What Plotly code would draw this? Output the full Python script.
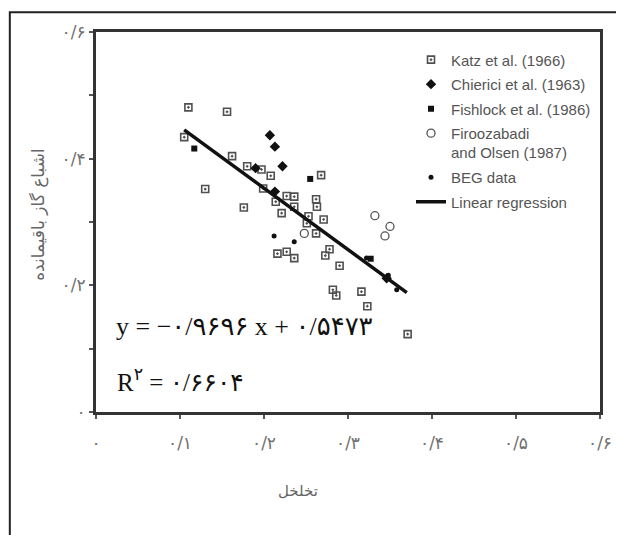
import plotly.graph_objects as go

# ---- data ----
katz_x = [0.110, 0.156, 0.105, 0.130, 0.162, 0.180, 0.197, 0.208, 0.176, 0.199, 0.214, 0.227,
          0.236, 0.221, 0.236, 0.262, 0.263, 0.268, 0.253, 0.251, 0.271, 0.262, 0.216, 0.227,
          0.236, 0.273, 0.278, 0.290, 0.282, 0.286, 0.316, 0.323, 0.371]
katz_y = [0.481, 0.474, 0.434, 0.352, 0.404, 0.388, 0.383, 0.373, 0.323, 0.353, 0.332, 0.341,
          0.340, 0.314, 0.324, 0.336, 0.324, 0.374, 0.309, 0.298, 0.304, 0.282, 0.250, 0.253,
          0.243, 0.247, 0.257, 0.231, 0.193, 0.184, 0.190, 0.167, 0.123]
chierici_x = [0.207, 0.213, 0.222, 0.190, 0.213, 0.346]
chierici_y = [0.437, 0.419, 0.388, 0.385, 0.348, 0.211]
fishlock_x = [0.117, 0.255, 0.327]
fishlock_y = [0.416, 0.368, 0.242]
firoozabadi_x = [0.332, 0.350, 0.344, 0.248]
firoozabadi_y = [0.310, 0.293, 0.278, 0.282]
beg_x = [0.212, 0.236, 0.358, 0.348, 0.322]
beg_y = [0.278, 0.269, 0.193, 0.216, 0.243]

slope = -0.9696
intercept = 0.5473
reg_x = [0.105, 0.370]
reg_y = [slope * v + intercept for v in reg_x]

x_tickvals = [0, 0.1, 0.2, 0.3, 0.4, 0.5, 0.6]
x_ticktext = ["۰", "۰/۱", "۰/۲", "۰/۳", "۰/۴", "۰/۵", "۰/۶"]
y_tickvals = [0, 0.2, 0.4, 0.6]
y_ticktext = ["۰", "۰/۲", "۰/۴", "۰/۶"]

names = ["Katz et al. (1966)", "Chierici et al. (1963)", "Fishlock et al. (1986)",
         "Firoozabadi<br>and Olsen (1987)", "BEG data", "Linear regression"]
equation_text = "y = −۰/۹۶۹۶ x + ۰/۵۴۷۳"
r2_text = "R<sup>۲</sup> = ۰/۶۶۰۴"
x_title = "تخلخل"
y_title = "اشباع گاز باقیمانده"

fig = go.Figure()
fig.add_trace(go.Scatter(x=katz_x, y=katz_y, mode="markers", name=names[0], legendgroup="a",
                         marker=dict(symbol="square-open-dot", size=7, color="#505050",
                                     line=dict(width=1.6, color="#505050"))))
fig.add_trace(go.Scatter(x=chierici_x, y=chierici_y, mode="markers", name=names[1], legendgroup="b",
                         marker=dict(symbol="diamond", size=8, color="#111")))
fig.add_trace(go.Scatter(x=fishlock_x, y=fishlock_y, mode="markers", name=names[2], legendgroup="c",
                         marker=dict(symbol="square", size=6, color="#111")))
fig.add_trace(go.Scatter(x=firoozabadi_x, y=firoozabadi_y, mode="markers", name=names[3], legendgroup="d",
                         marker=dict(symbol="circle-open", size=8, color="#555",
                                     line=dict(width=1.3, color="#555"))))
fig.add_trace(go.Scatter(x=beg_x, y=beg_y, mode="markers", name=names[4], legendgroup="e",
                         marker=dict(symbol="circle", size=5, color="#111")))
fig.add_trace(go.Scatter(x=reg_x, y=reg_y, mode="lines", name=names[5], legendgroup="f",
                         line=dict(color="#111", width=3.5)))

axis_common = dict(showline=True, linewidth=3, linecolor="#333", mirror=True, showgrid=False,
                   zeroline=False, ticks="outside", ticklen=4, tickwidth=1.5, tickcolor="#555",
                   tickfont=dict(family="DejaVu Sans", size=17, color="#707070"))

fig.update_layout(
    width=616, height=527,
    margin=dict(l=88, r=18, t=24, b=123),
    paper_bgcolor="white", plot_bgcolor="white",
    showlegend=True,
    legend=dict(x=0.625, y=0.97, xanchor="left", yanchor="top", bgcolor="rgba(0,0,0,0)",
                font=dict(family="Liberation Sans, Arial", size=15, color="#555"),
                traceorder="grouped", tracegroupgap=2, valign="top", itemwidth=30),
    xaxis=dict(range=[0, 0.6], tickvals=x_tickvals, ticktext=x_ticktext,
               ticklabelstandoff=10, **axis_common),
    yaxis=dict(range=[0, 0.6], tickvals=y_tickvals, ticktext=y_ticktext,
               minor=dict(dtick=0.1, ticks="outside", ticklen=4, tickcolor="#555"),
               **axis_common),
    annotations=[
        dict(text=equation_text, x=0.035, y=0.225, xref="paper", yref="paper",
             xanchor="left", yanchor="middle", showarrow=False,
             font=dict(family="Liberation Serif, DejaVu Sans", size=26, color="#111")),
        dict(text=r2_text, x=0.037, y=0.085, xref="paper", yref="paper",
             xanchor="left", yanchor="middle", showarrow=False,
             font=dict(family="Liberation Serif, DejaVu Sans", size=25, color="#111")),
        dict(text=x_title, x=0.4, y=-0.208, xref="paper", yref="paper",
             xanchor="center", yanchor="middle", showarrow=False,
             font=dict(family="DejaVu Sans", size=15, color="#666")),
        dict(text=y_title, x=-0.1157, y=0.518, xref="paper", yref="paper", textangle=-90,
             xanchor="center", yanchor="middle", showarrow=False,
             font=dict(family="DejaVu Sans", size=17, color="#666")),
    ],
    shapes=[
        dict(type="path", xref="paper", yref="paper",
             path="M -0.171,-0.35 L -0.171,1.052 L 1.05,1.052",
             line=dict(color="#222", width=2)),
    ],
)

fig.write_html("out.html")
